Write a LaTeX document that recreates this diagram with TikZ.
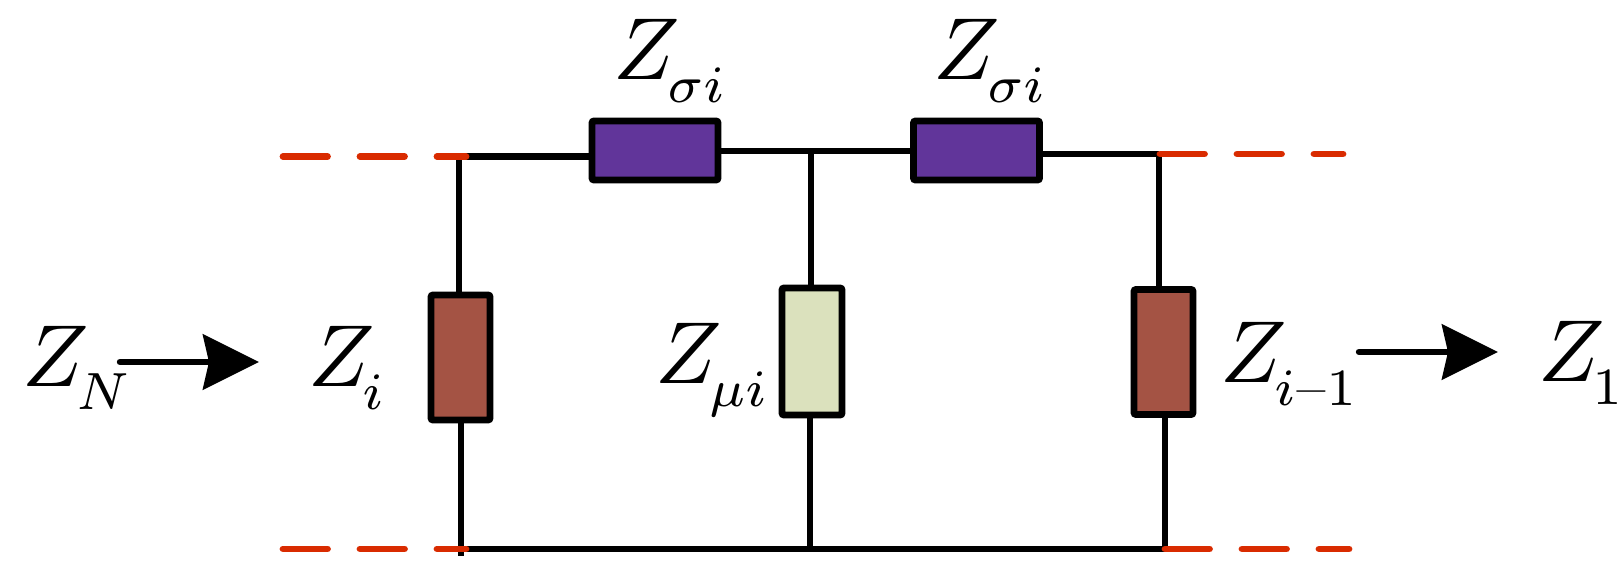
\documentclass[tikz,border=0pt]{standalone}
\usepackage{graphicx}
\usetikzlibrary{arrows.meta}
\definecolor{wirered}{HTML}{D92B00}
\definecolor{zpurple}{HTML}{61359A}
\definecolor{zbrown}{HTML}{A45344}
\definecolor{zgreen}{HTML}{DBE1BD}
\newcommand{\zsub}[1]{\scalebox{4.4}{$Z\mkern-2.5mu_{\raisebox{-1.1pt}{\scalebox{0.85}{$\scriptstyle #1$}}}$}}
\tikzset{
  x=0.5pt,y=-0.5pt,
  wire/.style={line width=3.2pt,draw=black},
  reddash/.style={line width=3.4pt,draw=wirered,line cap=round,dash pattern=on 22.25pt off 16.25pt},
  imp/.style={draw=black,line width=3.4pt,rounded corners=1pt,inner sep=0pt,outer sep=0pt},
  series/.style={imp,fill=zpurple,minimum width=63pt,minimum height=29.5pt},
  shuntbrown/.style={imp,fill=zbrown,minimum width=29.5pt,minimum height=62.5pt},
  shuntgreen/.style={imp,fill=zgreen,minimum width=30pt,minimum height=63.5pt},
  lab/.style={anchor=base west,inner sep=0pt,outer sep=0pt},
  bigarrow/.style={line width=3.2pt,line cap=round,-{Stealth[length=28pt,width=27.5pt,inset=3pt]}},
}
\begin{document}
\begin{tikzpicture}
\useasboundingbox (0,0) rectangle (1623,587);
% impedance boxes
\node[series] (s1) at (655,150.5) {};
\node[series] (s2) at (976.5,150.5) {};
\node[shuntbrown] (zi) at (460.5,357.5) {};
\node[shuntgreen] (zm) at (812,351.5) {};
\node[shuntbrown] (zo) at (1163.5,352) {};
% junction and end points
\coordinate (tl) at (459,156.5);
\coordinate (bl) at (461,549);
\coordinate (blx) at (461,556);
\coordinate (tm) at (811,151);
\coordinate (bm) at (810,549);
\coordinate (tr) at (1159,154);
\coordinate (br) at (1165,549);
\coordinate (rtl) at (283,156.5);
\coordinate (rte) at (466,156.5);
\coordinate (rbl) at (283,549);
\coordinate (rbe) at (466,549);
\coordinate (rtr) at (1160,154);
\coordinate (rtre) at (1343,154);
\coordinate (rbr) at (1165,549);
\coordinate (rbre) at (1349,549);
\coordinate (a1s) at (120,362);
\coordinate (a1e) at (259,362);
\coordinate (a2s) at (1359,352);
\coordinate (a2e) at (1498,352);
% wires
\draw[wire] (tl) -- (tl -| s1.west);
\draw[wire] (s1.east |- tm) -- (s2.west |- tm);
\draw[wire] (s2.east |- tr) -- (tr);
\draw[wire] (tl) -- (tl |- zi.north);
\draw[wire] (bl |- zi.south) -- (blx);
\draw[wire] (tm) -- (tm |- zm.north);
\draw[wire] (bm |- zm.south) -- (bm);
\draw[wire] (tr) -- (tr |- zo.north);
\draw[wire] (br |- zo.south) -- (br);
\draw[wire] (bl) -- (br);
% red continuation dashes
\draw[reddash] (rtl) -- (rte);
\draw[reddash] (rbl) -- (rbe);
\draw[reddash] (rtr) -- (rtre);
\draw[reddash] (rbr) -- (rbre);
% arrows
\draw[bigarrow] (a1s) -- (a1e);
\draw[bigarrow] (a2s) -- (a2e);
% labels
\node[lab] (lN) at (22,387) {\zsub{N}};
\node[lab] (lI) at (308,387) {\zsub{i}};
\node[lab] (lS1) at (613,80) {\zsub{\sigma i}};
\node[lab] (lS2) at (933,80) {\zsub{\sigma i}};
\node[lab] (lM) at (655,384) {\zsub{\mu i}};
\node[lab] (lO) at (1220,383) {\zsub{i\mbox{\kern0.1pt\fontsize{7}{7}\selectfont --\kern0.1pt}1}};
\node[lab] (lU) at (1538,382) {\zsub{1}};
\end{tikzpicture}
\end{document}
